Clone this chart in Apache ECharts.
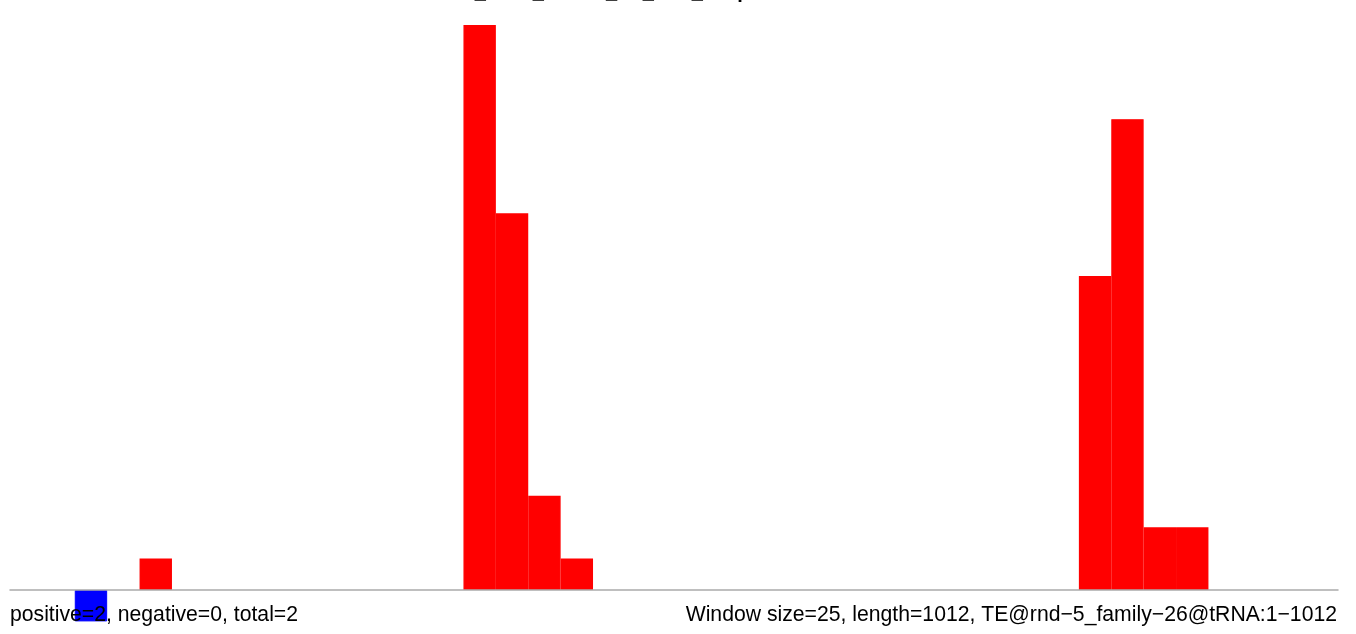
<!DOCTYPE html>
<html>
<head>
<meta charset="utf-8">
<script src="https://cdn.jsdelivr.net/npm/echarts@6/dist/echarts.min.js"></script>
<style>
html,body{margin:0;padding:0;background:#fff;}
#chart{width:1356px;height:634px;}
</style>
</head>
<body>
<div id="chart"></div>
<script>
// Window start positions (window size = 25, length = 1012)
const categories = [0,25,50,75,100,125,150,175,200,225,250,275,300,325,350,375,400,425,450,475,
  500,525,550,575,600,625,650,675,700,725,750,775,800,825,850,875,900,925,950,975,1000];
const positiveCounts = [0,0,0,0,1,0,0,0,0,0,0,0,0,0,18,12,3,1,0,0,
  0,0,0,0,0,0,0,0,0,0,0,0,0,10,15,2,2,0,0,0,0];
const negativeCounts = [0,0,-1,0,0,0,0,0,0,0,0,0,0,0,0,0,0,0,0,0,
  0,0,0,0,0,0,0,0,0,0,0,0,0,0,0,0,0,0,0,0,0];
const titleText = "w1118_head_small2_R1_trim_snap.TE.sorted.bed.txt";
const leftNote = "positive=2, negative=0, total=2";
const rightNote = "Window size=25, length=1012, TE@rnd\u22125_family\u221226@tRNA:1\u22121012";

// empty windows are not drawn
const nz = arr => arr.map(v => (v === 0 ? '-' : v));

const chart = echarts.init(document.getElementById('chart'), null, {renderer:'canvas'});
chart.setOption({
  animation:false,
  backgroundColor:'#ffffff',
  grid:{left:10,right:18,top:25,bottom:12.6},
  xAxis:{
    type:'category', data:categories, boundaryGap:true, z:5,
    axisLine:{show:true,onZero:true,lineStyle:{color:'#aaaaaa',width:1.5}},
    axisTick:{show:false}, axisLabel:{show:false}, splitLine:{show:false}
  },
  yAxis:{type:'value', min:-1, max:18, show:false, splitLine:{show:false}},
  series:[
    {type:'bar', data:nz(positiveCounts), barWidth:'100%', barGap:'-100%',
     itemStyle:{color:'#ff0000', borderColor:'#ff0000', borderWidth:1.4}, silent:true},
    {type:'bar', data:nz(negativeCounts), barWidth:'100%', barGap:'-100%',
     itemStyle:{color:'#0000ff', borderColor:'#0000ff', borderWidth:1}, silent:true}
  ],
  graphic:[
    {type:'text', z:100, x:417, y:-18,
     style:{text:titleText, font:'bold 20px "Liberation Sans", Arial, sans-serif', fill:'#000', textAlign:'left', textVerticalAlign:'top'}},
    {type:'text', z:100, x:10, y:615,
     style:{text:leftNote, font:'21.2px "Liberation Sans", Arial, sans-serif', fill:'#000', textAlign:'left', textVerticalAlign:'middle'}},
    {type:'text', z:100, x:1337, y:615,
     style:{text:rightNote, font:'21.2px "Liberation Sans", Arial, sans-serif', fill:'#000', textAlign:'right', textVerticalAlign:'middle'}}
  ]
});
</script>
</body>
</html>
